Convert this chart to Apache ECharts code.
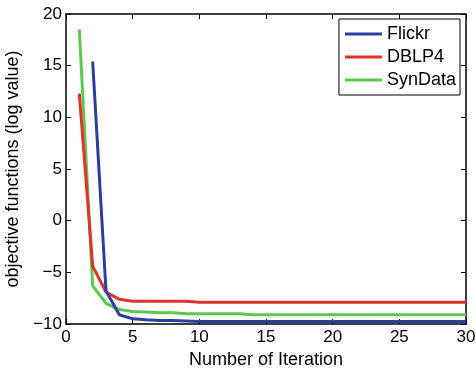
<!DOCTYPE html>
<html>
<head>
<meta charset="utf-8">
<script src="https://cdn.jsdelivr.net/npm/echarts@6/dist/echarts.min.js"></script>
<style>
  html, body { margin: 0; padding: 0; background: #fff; }
  #chart { width: 475px; height: 369px; }
</style>
</head>
<body>
<div id="chart"></div>
<script>
const iterations = [1, 2, 3, 4, 5, 6, 7, 8, 9, 10, 11, 12, 13, 14, 15, 16, 17, 18, 19, 20, 21, 22, 23, 24, 25, 26, 27, 28, 29, 30];
const flickr = [null, 15.4, -6.8, -9.1, -9.5, -9.6, -9.65, -9.65, -9.7, -9.75, -9.75, -9.75, -9.75, -9.75, -9.75, -9.75, -9.75, -9.75, -9.75, -9.75, -9.75, -9.75, -9.75, -9.75, -9.75, -9.75, -9.75, -9.75, -9.75, -9.75];
const dblp4 = [12.3, -4.4, -6.9, -7.6, -7.8, -7.8, -7.8, -7.8, -7.8, -7.9, -7.9, -7.9, -7.9, -7.9, -7.9, -7.9, -7.9, -7.9, -7.9, -7.9, -7.9, -7.9, -7.9, -7.9, -7.9, -7.9, -7.9, -7.9, -7.9, -7.9];
const synData = [18.5, -6.3, -8.0, -8.6, -8.8, -8.85, -8.9, -8.9, -9.0, -9.0, -9.0, -9.0, -9.0, -9.1, -9.1, -9.1, -9.1, -9.1, -9.1, -9.1, -9.1, -9.1, -9.1, -9.1, -9.1, -9.1, -9.1, -9.1, -9.1, -9.1];

const seriesNames = ['Flickr', 'DBLP4', 'SynData'];
const seriesColors = ['#2b3f9f', '#e2302b', '#5cc84d'];
const seriesValues = [flickr, dblp4, synData];

const font = 'Liberation Sans, Arial, sans-serif';
const minus = v => String(v).replace('-', '\u2212');

const chart = echarts.init(document.getElementById('chart'));

const axisCommon = {
    type: 'value',
    interval: 5,
    axisLine: { show: true, onZero: false, lineStyle: { color: '#000', width: 1.5 } },
    axisTick: { show: true, inside: true, length: 5, lineStyle: { color: '#000', width: 1 } },
    splitLine: { show: false },
};

const option = {
    animation: false,
    grid: { left: 66, right: 9, top: 14, bottom: 45, outerBoundsMode: 'none', containLabel: false },
    legend: {
        orient: 'vertical',
        right: 15,
        top: 19,
        data: seriesNames,
        icon: 'rect',
        itemWidth: 37,
        itemHeight: 3,
        itemGap: 5,
        padding: [6, 4, 6, 6],
        borderColor: '#000',
        borderWidth: 1,
        backgroundColor: '#fff',
        textStyle: { fontFamily: font, fontSize: 18, color: '#000' },
    },
    xAxis: [
        Object.assign({}, axisCommon, {
            min: 0, max: 30,
            name: 'Number of Iteration',
            nameLocation: 'middle',
            nameGap: 25,
            nameTextStyle: { fontFamily: font, fontSize: 18, color: '#000' },
            axisLabel: { fontFamily: font, fontSize: 17, color: '#000', margin: 5, formatter: minus },
        }),
        Object.assign({}, axisCommon, {
            min: 0, max: 30, position: 'top',
            axisLabel: { show: false },
        }),
    ],
    yAxis: [
        Object.assign({}, axisCommon, {
            min: -10, max: 20,
            name: 'objective functions (log value)',
            nameLocation: 'middle',
            nameGap: 38,
            nameTextStyle: { fontFamily: font, fontSize: 18, color: '#000' },
            axisLabel: { fontFamily: font, fontSize: 17, color: '#000', margin: 4, formatter: minus },
        }),
        Object.assign({}, axisCommon, {
            min: -10, max: 20, position: 'right',
            axisLabel: { show: false },
        }),
    ],
    series: seriesNames.map((name, i) => ({
        name: name,
        type: 'line',
        data: iterations.map((x, j) => [x, seriesValues[i][j]]),
        showSymbol: false,
        connectNulls: false,
        color: seriesColors[i],
        lineStyle: { width: 3, color: seriesColors[i] },
        z: 3 - i,
    })),
};

chart.setOption(option);
</script>
</body>
</html>
